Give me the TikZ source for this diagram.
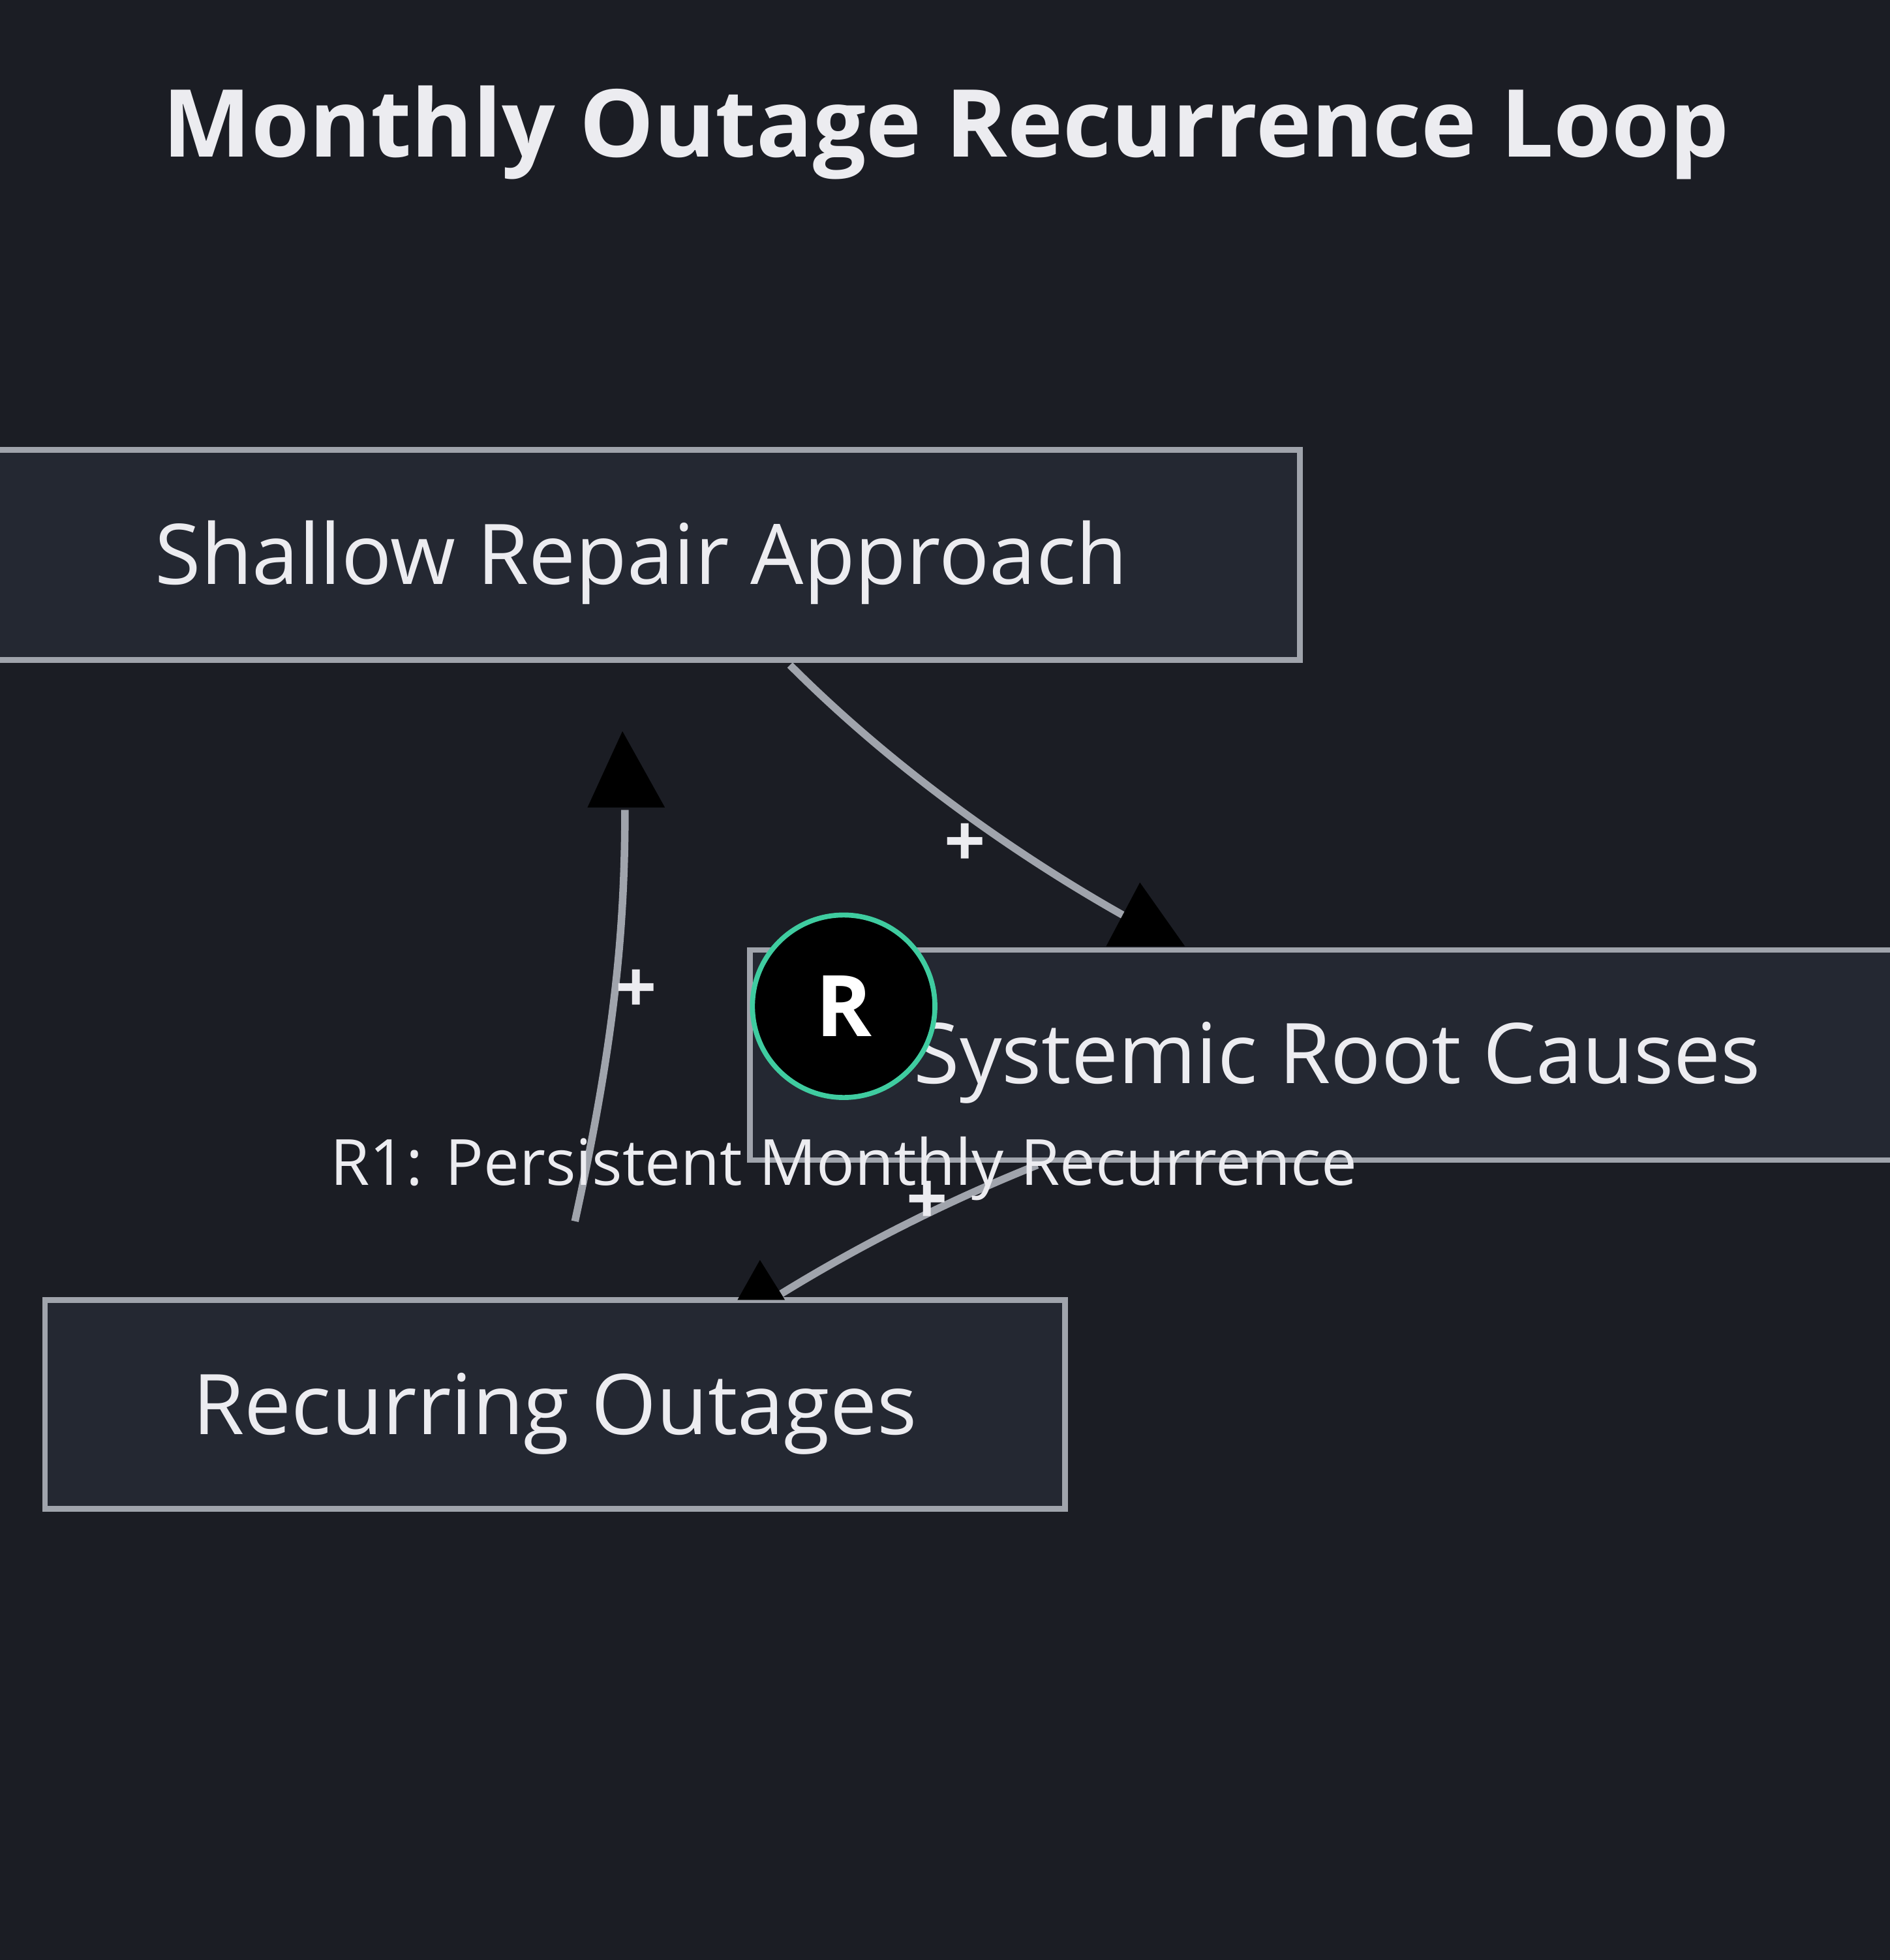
\documentclass[tikz,border=0pt]{standalone}
\usepackage{fontspec}
\setmainfont{Open Sans}[BoldFont={Open Sans Bold}]
\begin{document}
\begin{tikzpicture}[x=1pt,y=-1pt,
 box/.style={draw=edge,fill=boxbg,line width=4.5pt},
 lbl/.style={text=txt,font=\fontsize{67}{72}\selectfont},
 plus/.style={text=txt,font=\bfseries\fontsize{58}{60}\selectfont},
 link/.style={draw=edge,line width=6pt},
 tip/.style={fill=black}]
\definecolor{bg}{HTML}{1B1D24}\definecolor{boxbg}{HTML}{242832}
\definecolor{edge}{HTML}{A0A4AC}\definecolor{txt}{HTML}{ECECF0}\definecolor{ring}{HTML}{3FCCA0}
\fill[bg] (0,0) rectangle (1512,1568);
\useasboundingbox (0,0) rectangle (1512,1568);
\node[text=txt,font=\bfseries\fontsize{75}{80}\selectfont] (title) at (757,106) {Monthly Outage Recurrence Loop};
\draw[box] (-5,360) rectangle (1040,528);
\draw[box] (600,760) rectangle (1525,928);
\draw[box] (36,1040) rectangle (852,1207);
\node[lbl] (a) at (513,450) {Shallow Repair Approach};
\node[lbl] (b) at (1070,850) {Systemic Root Causes};
\node[lbl] (c) at (444,1131) {Recurring Outages};
\coordinate (a1) at (632,532); \coordinate (b1) at (900,733);
\coordinate (b2) at (830,932); \coordinate (c2) at (625,1035);
\coordinate (c3) at (460,977); \coordinate (a3) at (500,648);
\draw[link] (a1) .. controls (720,620) and (820,688) .. (b1);
\fill[tip] (912,706) -- (948,757) -- (885,757) -- cycle;
\node[plus] at (772,676) {+};
\draw[link] (b2) .. controls (760,960) and (690,995) .. (c2);
\fill[tip] (608,1008) -- (628,1040) -- (590,1040) -- cycle;
\node[plus] at (742,962) {+};
\draw[link] (c3) .. controls (490,840) and (500,750) .. (a3);
\fill[tip] (498,585) -- (532,646) -- (470,646) -- cycle;
\node[plus] at (509,793) {+};
\node[circle,fill=black,draw=ring,line width=4pt,minimum size=146pt,inner sep=0pt,text=white,font=\bfseries\fontsize{68}{70}\selectfont] (r) at (675,805) {R};
\node[text=txt,font=\fontsize{51}{54}\selectfont] (loop) at (675,935) {R1: Persistent Monthly Recurrence};
\end{tikzpicture}
\end{document}
